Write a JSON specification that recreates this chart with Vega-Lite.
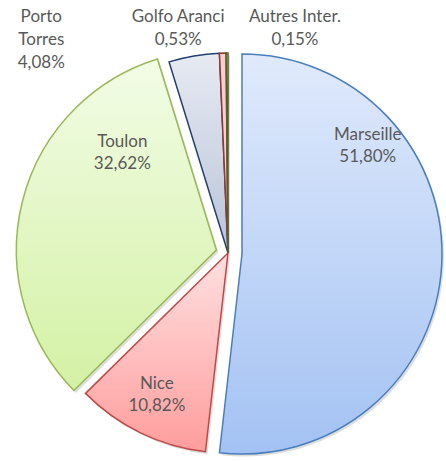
{
  "$schema": "https://vega.github.io/schema/vega-lite/v6.json",
  "width": 436,
  "height": 416,
  "padding": {"left": 10, "top": 45, "right": 0, "bottom": 0},
  "autosize": {"type": "none"},
  "background": "white",
  "config": {
    "view": {"stroke": null},
    "locale": {"number": {"decimal": ",", "thousands": " ", "grouping": [3], "currency": ["", " €"], "percent": "%"}}
  },
  "data": {
    "values": [
      {"name": "Marseille", "share": 0.518, "rank": 1},
      {"name": "Nice", "share": 0.1082, "rank": 2},
      {"name": "Toulon", "share": 0.3262, "rank": 3},
      {"name": "Porto Torres", "share": 0.0408, "rank": 4},
      {"name": "Golfo Aranci", "share": 0.0053, "rank": 5},
      {"name": "Autres Inter.", "share": 0.0015, "rank": 6}
    ]
  },
  "transform": [
    {"calculate": "datum.name + '\\n' + format(datum.share, '.2%')", "as": "label"}
  ],
  "encoding": {
    "theta": {"field": "share", "type": "quantitative", "stack": true, "scale": {"type": "linear", "zero": true}},
    "order": {"field": "rank", "type": "quantitative"}
  },
  "layer": [
    {
      "mark": {"type": "arc", "outerRadius": 200, "fill": "#000000", "xOffset": 2, "yOffset": 2.5},
      "encoding": {
        "opacity": {"condition": {"test": "datum.name === 'Marseille' || datum.name === 'Toulon'", "value": 0}, "value": 0.13}
      }
    },
    {
      "mark": {"type": "arc", "outerRadius": 200, "fill": "#000000", "xOffset": 16, "yOffset": 3.5},
      "encoding": {
        "opacity": {"condition": {"test": "datum.name === 'Marseille'", "value": 0.13}, "value": 0}
      }
    },
    {
      "mark": {"type": "arc", "outerRadius": 200, "fill": "#000000", "xOffset": -9.6, "yOffset": -0.4},
      "encoding": {
        "opacity": {"condition": {"test": "datum.name === 'Toulon'", "value": 0.13}, "value": 0}
      }
    },
    {
      "mark": {"type": "arc", "outerRadius": 200, "strokeWidth": 1.5, "strokeJoin": "miter"},
      "encoding": {
        "fill": {
          "condition": [
            {"test": "datum.name === 'Nice'", "value": {"gradient": "linear", "x1": 0, "y1": 0, "x2": 0, "y2": 1, "stops": [{"offset": 0, "color": "#ffe0e0"}, {"offset": 1, "color": "#ff9d9d"}]}},
            {"test": "datum.name === 'Porto Torres'", "value": {"gradient": "linear", "x1": 0, "y1": 0, "x2": 0, "y2": 1, "stops": [{"offset": 0, "color": "#e6eaf2"}, {"offset": 1, "color": "#b9c4d8"}]}},
            {"test": "datum.name === 'Golfo Aranci'", "value": "#f7cfcf"},
            {"test": "datum.name === 'Autres Inter.'", "value": "#d5e6b5"}
          ],
          "value": "#ffffff"
        },
        "stroke": {
          "condition": [
            {"test": "datum.name === 'Nice'", "value": "#be4b48"},
            {"test": "datum.name === 'Porto Torres'", "value": "#24406f"},
            {"test": "datum.name === 'Golfo Aranci'", "value": "#943634"},
            {"test": "datum.name === 'Autres Inter.'", "value": "#4f6228"}
          ],
          "value": "#888888"
        },
        "opacity": {"condition": {"test": "datum.name === 'Marseille' || datum.name === 'Toulon'", "value": 0}, "value": 1}
      }
    },
    {
      "mark": {"type": "arc", "outerRadius": 200, "strokeWidth": 1.5, "strokeJoin": "miter", "xOffset": 14, "yOffset": 1,
        "fill": {"gradient": "linear", "x1": 0, "y1": 0, "x2": 0, "y2": 1, "stops": [{"offset": 0, "color": "#e0eafc"}, {"offset": 1, "color": "#a3c2f3"}]},
        "stroke": "#4a7ebb"},
      "encoding": {
        "opacity": {"condition": {"test": "datum.name === 'Marseille'", "value": 1}, "value": 0}
      }
    },
    {
      "mark": {"type": "arc", "outerRadius": 200, "strokeWidth": 1.5, "strokeJoin": "miter", "xOffset": -11.6, "yOffset": -2.9,
        "fill": {"gradient": "linear", "x1": 0, "y1": 0, "x2": 0, "y2": 1, "stops": [{"offset": 0, "color": "#f2fce6"}, {"offset": 1, "color": "#d3f1a4"}]},
        "stroke": "#98b954"},
      "encoding": {
        "opacity": {"condition": {"test": "datum.name === 'Toulon'", "value": 1}, "value": 0}
      }
    },
    {
      "mark": {"type": "text", "radius": 140, "dy": -126, "font": "Lato", "fontSize": 17, "fill": "#595959", "lineBreak": "\n", "lineHeight": 22, "align": "center", "baseline": "middle"},
      "encoding": {
        "text": {"field": "label"},
        "opacity": {"condition": {"test": "datum.name === 'Marseille'", "value": 1}, "value": 0}
      }
    },
    {
      "mark": {"type": "text", "radius": 158, "dx": -2, "dy": -11, "font": "Lato", "fontSize": 17, "fill": "#595959", "lineBreak": "\n", "lineHeight": 22, "align": "center", "baseline": "middle"},
      "encoding": {
        "text": {"field": "label"},
        "opacity": {"condition": {"test": "datum.name === 'Nice'", "value": 1}, "value": 0}
      }
    },
    {
      "mark": {"type": "text", "radius": 110, "dx": 1, "dy": -84, "font": "Lato", "fontSize": 17, "fill": "#595959", "lineBreak": "\n", "lineHeight": 22, "align": "center", "baseline": "middle"},
      "encoding": {
        "text": {"field": "label"},
        "opacity": {"condition": {"test": "datum.name === 'Toulon'", "value": 1}, "value": 0}
      }
    },
    {
      "transform": [{"calculate": "replace(datum.label, ' ', '\\n')", "as": "label2"}],
      "mark": {"type": "text", "radius": 216, "dx": -150, "dy": -23, "font": "Lato", "fontSize": 17, "fill": "#595959", "lineBreak": "\n", "lineHeight": 23, "align": "center", "baseline": "middle"},
      "encoding": {
        "text": {"field": "label2"},
        "opacity": {"condition": {"test": "datum.name === 'Porto Torres'", "value": 1}, "value": 0}
      }
    },
    {
      "mark": {"type": "text", "radius": 224, "dx": -44, "dy": -12, "font": "Lato", "fontSize": 17, "fill": "#595959", "lineBreak": "\n", "lineHeight": 23, "align": "center", "baseline": "middle"},
      "encoding": {
        "text": {"field": "label"},
        "opacity": {"condition": {"test": "datum.name === 'Golfo Aranci'", "value": 1}, "value": 0}
      }
    },
    {
      "mark": {"type": "text", "radius": 224, "dx": 68, "dy": -12, "font": "Lato", "fontSize": 17, "fill": "#595959", "lineBreak": "\n", "lineHeight": 23, "align": "center", "baseline": "middle"},
      "encoding": {
        "text": {"field": "label"},
        "opacity": {"condition": {"test": "datum.name === 'Autres Inter.'", "value": 1}, "value": 0}
      }
    }
  ]
}
